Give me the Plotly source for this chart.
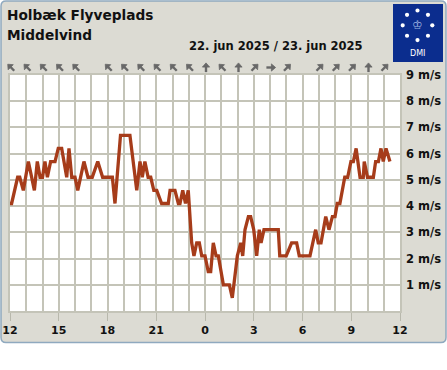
import plotly.graph_objects as go

# ---------------- data ----------------
# hours after 22 Jun 2025 12:00 (local), mean wind speed in m/s
hours = [0.0, 0.1, 0.47, 0.6, 0.82, 1.13, 1.5, 1.68, 1.85, 2.0, 2.15, 2.3, 2.5, 2.77,
         2.97, 3.18, 3.49, 3.63, 3.8, 4.0, 4.17, 4.55, 4.8, 5.06, 5.4, 5.7, 6.3, 6.46,
         6.8, 7.38, 7.8, 8.0, 8.14, 8.3, 8.5, 8.66, 8.85, 9.03, 9.33, 9.74, 9.85, 10.15,
         10.36, 10.46, 10.63, 10.8, 10.97, 11.18, 11.32, 11.49, 11.65, 11.8, 12.0, 12.2,
         12.35, 12.51, 12.68, 12.82, 13.13, 13.5, 13.68, 13.99, 14.2, 14.32, 14.46, 14.67,
         14.81, 15.0, 15.18, 15.34, 15.45, 15.63, 16.51, 16.6, 17.0, 17.33, 17.64, 17.8,
         18.46, 18.81, 18.97, 19.14, 19.43, 19.63, 19.84, 20.0, 20.14, 20.3, 20.6, 20.78,
         20.98, 21.13, 21.3, 21.54, 21.74, 21.8, 22.0, 22.36, 22.5, 22.67, 22.83, 22.97,
         23.14, 23.38]
speed = [4.1, 4.1, 5.1, 5.1, 4.6, 5.7, 4.6, 5.7, 5.1, 5.1, 5.7, 5.1, 5.7, 5.7,
         6.2, 6.2, 5.1, 6.2, 5.1, 5.1, 4.6, 5.7, 5.1, 5.1, 5.7, 5.1, 5.1, 4.1,
         6.7, 6.7, 4.6, 5.7, 5.1, 5.7, 5.1, 5.1, 4.6, 4.6, 4.1, 4.1, 4.6, 4.6,
         4.1, 4.1, 4.6, 4.1, 4.6, 2.6, 2.1, 2.6, 2.6, 2.1, 2.1, 1.5,
         1.5, 2.6, 2.1, 2.1, 1.0, 1.0, 0.5, 2.1, 2.6, 2.1, 3.1, 3.6,
         3.6, 3.1, 2.1, 3.1, 2.6, 3.1, 3.1, 2.1, 2.1, 2.6, 2.6, 2.1,
         2.1, 3.1, 2.6, 2.6, 3.6, 3.1, 3.6, 3.6, 4.1, 4.1, 5.1, 5.1,
         5.7, 5.7, 6.2, 5.1, 5.1, 5.7, 5.1, 5.1, 5.7, 5.7, 6.2, 5.7,
         6.2, 5.7]

tick_hours = [0, 3, 6, 9, 12, 15, 18, 21, 24]
tick_labels = ["12", "15", "18", "21", "0", "3", "6", "9", "12"]
y_ticks = [1, 2, 3, 4, 5, 6, 7, 8, 9]
y_labels = [f"{v} m/s" for v in y_ticks]

arrow_hours = list(range(24))
arrow_dirs = ["NW", "NW", "NW", "NW", "NW", None, "NW", "NW", "NW", "NW", "NW", "NW",
              "N", "NW", "N", "NE", "E", "NE", None, "NE", "NE", "NE", "N", "NE"]
# screen direction unit vectors (y down)
ARROW_VEC = {"N": (0.0, -1.0), "NE": (0.7071, -0.7071), "E": (1.0, 0.0),
             "NW": (-0.7071, -0.7071)}

title_line1 = "Holbæk Flyveplads"
title_line2 = "Middelvind"
date_text = "22. jun 2025 / 23. jun 2025"

# ---------------- layout helpers ----------------
W, H = 447, 370
L, R, T, B = 10, 400, 75, 311
PX_PER_HOUR = (R - L) / 24


def px(x):
    return (x - L) / (R - L)


def py(y):
    return (B - y) / (B - T)


FONT = "DejaVu Sans"
GRID = "#c4c4b8"
PANEL = "#dcdbd3"
PANEL_LINE = "#8fa9bf"
LINE_COLOR = "#a63c1a"
LOGO_BLUE = "#0b2d8e"
ARROW_COLOR = "#686868"

fig = go.Figure()
fig.add_trace(go.Scatter(x=hours, y=speed, mode="lines",
                         line=dict(color=LINE_COLOR, width=3.3),
                         hoverinfo="skip", showlegend=False))

shapes = []
# rounded grey panel
x0, y0, x1, y1, r = 1, 1, 446, 342.5, 5
path = (f"M {px(x0 + r)},{py(y0)} L {px(x1 - r)},{py(y0)} "
        f"Q {px(x1)},{py(y0)} {px(x1)},{py(y0 + r)} L {px(x1)},{py(y1 - r)} "
        f"Q {px(x1)},{py(y1)} {px(x1 - r)},{py(y1)} L {px(x0 + r)},{py(y1)} "
        f"Q {px(x0)},{py(y1)} {px(x0)},{py(y1 - r)} L {px(x0)},{py(y0 + r)} "
        f"Q {px(x0)},{py(y0)} {px(x0 + r)},{py(y0)} Z")
shapes.append(dict(type="path", path=path, xref="paper", yref="paper",
                   fillcolor=PANEL, line=dict(color=PANEL_LINE, width=1.5), layer="below"))
# white plot area
shapes.append(dict(type="rect", xref="paper", yref="paper", x0=0, x1=1, y0=0, y1=1,
                   fillcolor="white", line=dict(width=0), layer="below"))
# DMI logo box
shapes.append(dict(type="rect", xref="paper", yref="paper",
                   x0=px(393), x1=px(443), y0=py(62), y1=py(4),
                   fillcolor=LOGO_BLUE, line=dict(width=0), layer="above"))
cx, cy, rad, dr = 417.5, 25.3, 14.8, 2.1
for dx, dy in [(0, -1), (0.7071, -0.7071), (1, 0), (0.7071, 0.7071),
               (0, 1), (-0.7071, 0.7071), (-1, 0), (-0.7071, -0.7071)]:
    ux, uy = cx + dx * rad, cy + dy * rad
    shapes.append(dict(type="circle", xref="paper", yref="paper",
                       x0=px(ux - dr), x1=px(ux + dr), y0=py(uy + dr), y1=py(uy - dr),
                       fillcolor="white", line=dict(width=0), layer="above"))

# wind direction arrows (drawn as small shaft + head), one per hour
ARROW_HALF = 4.6
ARROW_Y = 67.5
HEAD_LEN = 4.2
HEAD_HALF_W = 3.6
for hr, d in zip(arrow_hours, arrow_dirs):
    if d is None:
        continue
    vx, vy = ARROW_VEC[d]
    ax_c = L + hr * PX_PER_HOUR + 1.0
    tail = (ax_c - vx * ARROW_HALF, ARROW_Y - vy * ARROW_HALF)
    tip = (ax_c + vx * ARROW_HALF, ARROW_Y + vy * ARROW_HALF)
    base = (tip[0] - vx * HEAD_LEN, tip[1] - vy * HEAD_LEN)
    nx, ny = -vy, vx
    p1 = (base[0] + nx * HEAD_HALF_W, base[1] + ny * HEAD_HALF_W)
    p2 = (base[0] - nx * HEAD_HALF_W, base[1] - ny * HEAD_HALF_W)
    shaft_end = (tip[0] - vx * 2.0, tip[1] - vy * 2.0)
    shapes.append(dict(type="line", xref="paper", yref="paper",
                       x0=px(tail[0]), y0=py(tail[1]), x1=px(shaft_end[0]), y1=py(shaft_end[1]),
                       line=dict(color=ARROW_COLOR, width=2.4), layer="above"))
    head_path = (f"M {px(tip[0])},{py(tip[1])} L {px(p1[0])},{py(p1[1])} "
                 f"L {px(p2[0])},{py(p2[1])} Z")
    shapes.append(dict(type="path", path=head_path, xref="paper", yref="paper",
                       fillcolor=ARROW_COLOR, line=dict(color=ARROW_COLOR, width=0.8),
                       layer="above"))

annotations = [
    dict(text=title_line1, x=px(5), y=py(15), xref="paper", yref="paper",
         xanchor="left", yanchor="middle", showarrow=False,
         font=dict(family=FONT, size=13.7, color="#111111", weight="bold")),
    dict(text=title_line2, x=px(5), y=py(35), xref="paper", yref="paper",
         xanchor="left", yanchor="middle", showarrow=False,
         font=dict(family=FONT, size=13.7, color="#111111", weight="bold")),
    dict(text=date_text, x=px(276), y=py(46), xref="paper", yref="paper",
         xanchor="center", yanchor="middle", showarrow=False,
         font=dict(family=FONT, size=11.5, color="#111111", weight="bold")),
    dict(text="\u2654", x=px(417.5), y=py(25), xref="paper", yref="paper",
         xanchor="center", yanchor="middle", showarrow=False,
         font=dict(family=FONT, size=12, color="#9fb4e0")),
    dict(text="DMI", x=px(417.5), y=py(53.5), xref="paper", yref="paper",
         xanchor="center", yanchor="middle", showarrow=False,
         font=dict(family=FONT, size=8, color="white")),
]

fig.update_layout(
    width=W, height=H, autosize=False,
    margin=dict(l=L, r=W - R, t=T, b=H - B, pad=0, autoexpand=False),
    paper_bgcolor="white", plot_bgcolor="rgba(0,0,0,0)",
    showlegend=False,
    shapes=shapes, annotations=annotations,
    xaxis=dict(range=[0, 24], tickmode="array", tickvals=tick_hours, ticktext=tick_labels,
               showgrid=True, gridcolor=GRID, gridwidth=1.5, zeroline=False,
               showline=True, mirror=True, linecolor=GRID, linewidth=1.5,
               ticks="outside", ticklen=8, tickcolor="#b8b8ac", tickwidth=1,
               tickfont=dict(family=FONT, size=11, color="#111111", weight="bold"),
               minor=dict(tickmode="linear", tick0=0, dtick=1, showgrid=True,
                          gridcolor=GRID, gridwidth=1.5, ticks=""),
               automargin=False, fixedrange=True),
    yaxis=dict(range=[0, 9], side="right", tickmode="array", tickvals=y_ticks, ticktext=y_labels,
               showgrid=True, gridcolor=GRID, gridwidth=1.5, zeroline=False,
               showline=True, mirror=True, linecolor=GRID, linewidth=1.5,
               ticks="outside", ticklen=2, tickcolor="rgba(0,0,0,0)",
               tickfont=dict(family=FONT, size=11.5, color="#111111", weight="bold"),
               automargin=False, fixedrange=True),
)

fig.write_html("out.html", config={"displayModeBar": False, "responsive": False},
               post_script="document.body.style.margin='0';document.body.style.overflow='hidden';")
